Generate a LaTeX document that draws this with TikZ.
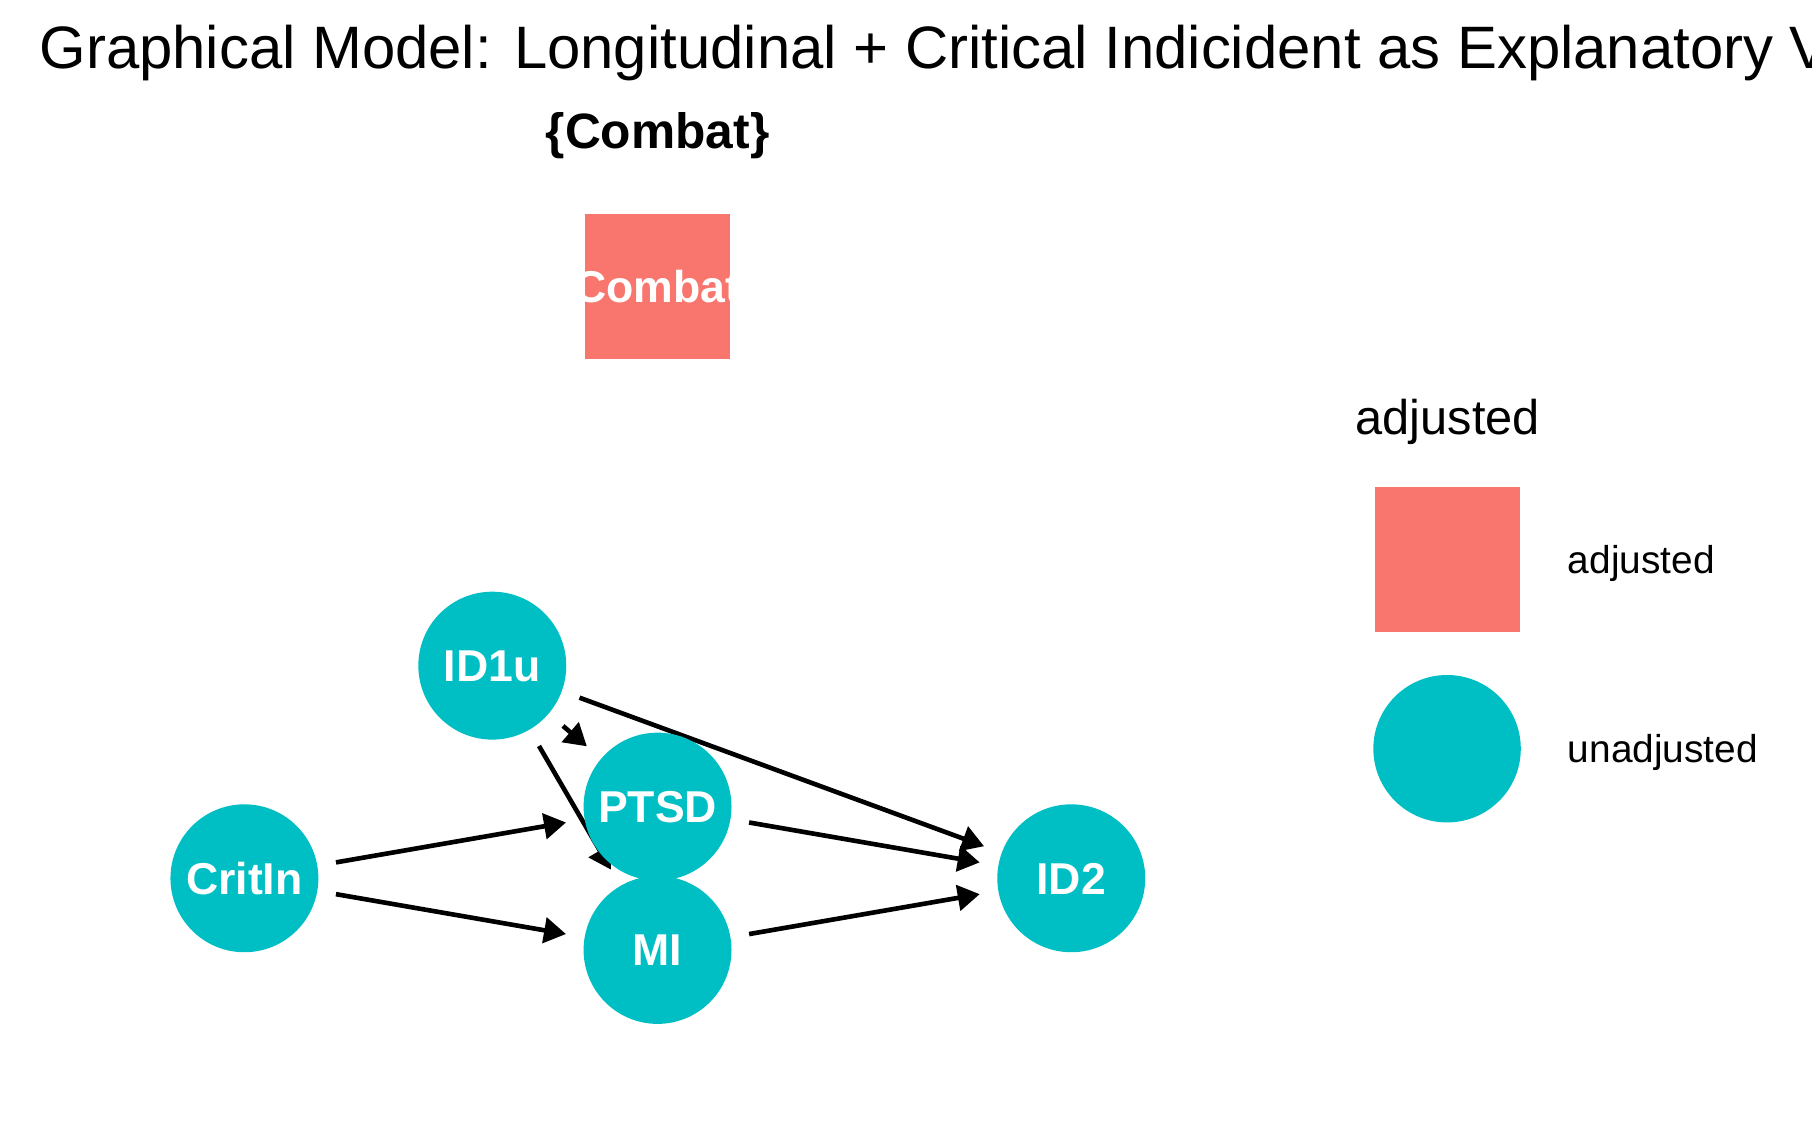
\documentclass[tikz,border=0pt]{standalone}
\usepackage{fontspec}
\setmainfont{Liberation Sans}
\usetikzlibrary{arrows.meta}
\definecolor{ggcyan}{HTML}{00BFC4}
\definecolor{ggred}{HTML}{F8766D}
\pgfdeclarelayer{edgelayer}
\pgfsetlayers{edgelayer,main}
\begin{document}
\begin{tikzpicture}[x=0.5pt,y=-0.5pt,
  dagnode/.style={circle,fill=ggcyan,minimum size=64pt,inner sep=0pt,text=white,
    font=\fontsize{19.3}{20}\selectfont\bfseries,text height=13.8pt,text depth=0pt},
  adjbox/.style={rectangle,fill=ggred,minimum size=63pt,inner sep=0pt},
  adjtext/.style={inner sep=0pt,text=white,font=\fontsize{19.3}{20}\selectfont\bfseries,
    text height=13.8pt,text depth=0pt},
  dagedge/.style={line width=2pt,-{Triangle[length=9.5pt,width=11pt]},
    shorten >=8pt,shorten <=8pt},
  plaintext/.style={inner sep=0pt,anchor=base west}]
\useasboundingbox (0,0) rectangle (1568,969.2);
\clip (0,0) rectangle (1568,969.2);
% title
\node[plaintext,font=\fontsize{25.9}{30}\selectfont] (title) at (33.8,59.1)
  {Graphical Model: Longitudinal + Critical Indicident as Explanatory V};
% facet label
\node[inner sep=0pt,anchor=base,font=\fontsize{21.5}{24}\selectfont\bfseries] (facet) at (569,128.4) {\{Combat\}};
% adjusted node
\node[adjbox] (combat) at (569,248) {};
\node[adjtext] (combattext) at (combat.center) {Combat};
% unadjusted nodes
\node[dagnode] (id1u) at (426,576) {ID1u};
\node[dagnode] (critin) at (211.5,760) {CritIn};
\node[dagnode] (ptsd) at (569,698) {PTSD};
\node[dagnode] (mi) at (569,822) {MI};
\node[dagnode] (id2) at (927,760) {ID2};
% edges (under the nodes)
\begin{pgfonlayer}{edgelayer}
\draw[dagedge] (id1u) -- (ptsd);
\draw[dagedge] (id1u) -- (mi);
\draw[dagedge] (id1u) -- (id2);
\draw[dagedge] (critin) -- (ptsd);
\draw[dagedge] (critin) -- (mi);
\draw[dagedge] (ptsd) -- (id2);
\draw[dagedge] (mi) -- (id2);
\end{pgfonlayer}
% legend
\node[plaintext,font=\fontsize{21.1}{24}\selectfont] (legtitle) at (1172.6,376.4) {adjusted};
\node[adjbox,minimum size=62.8pt] (legsq) at (1252.2,484.5) {};
\node[plaintext,font=\fontsize{16.8}{20}\selectfont] (leglab1) at (1356.3,496.1) {adjusted};
\node[circle,fill=ggcyan,minimum size=63.8pt,inner sep=0pt] (legcirc) at (1252.2,647.9) {};
\node[plaintext,font=\fontsize{16.8}{20}\selectfont] (leglab2) at (1356.3,659.7) {unadjusted};
\end{tikzpicture}
\end{document}
